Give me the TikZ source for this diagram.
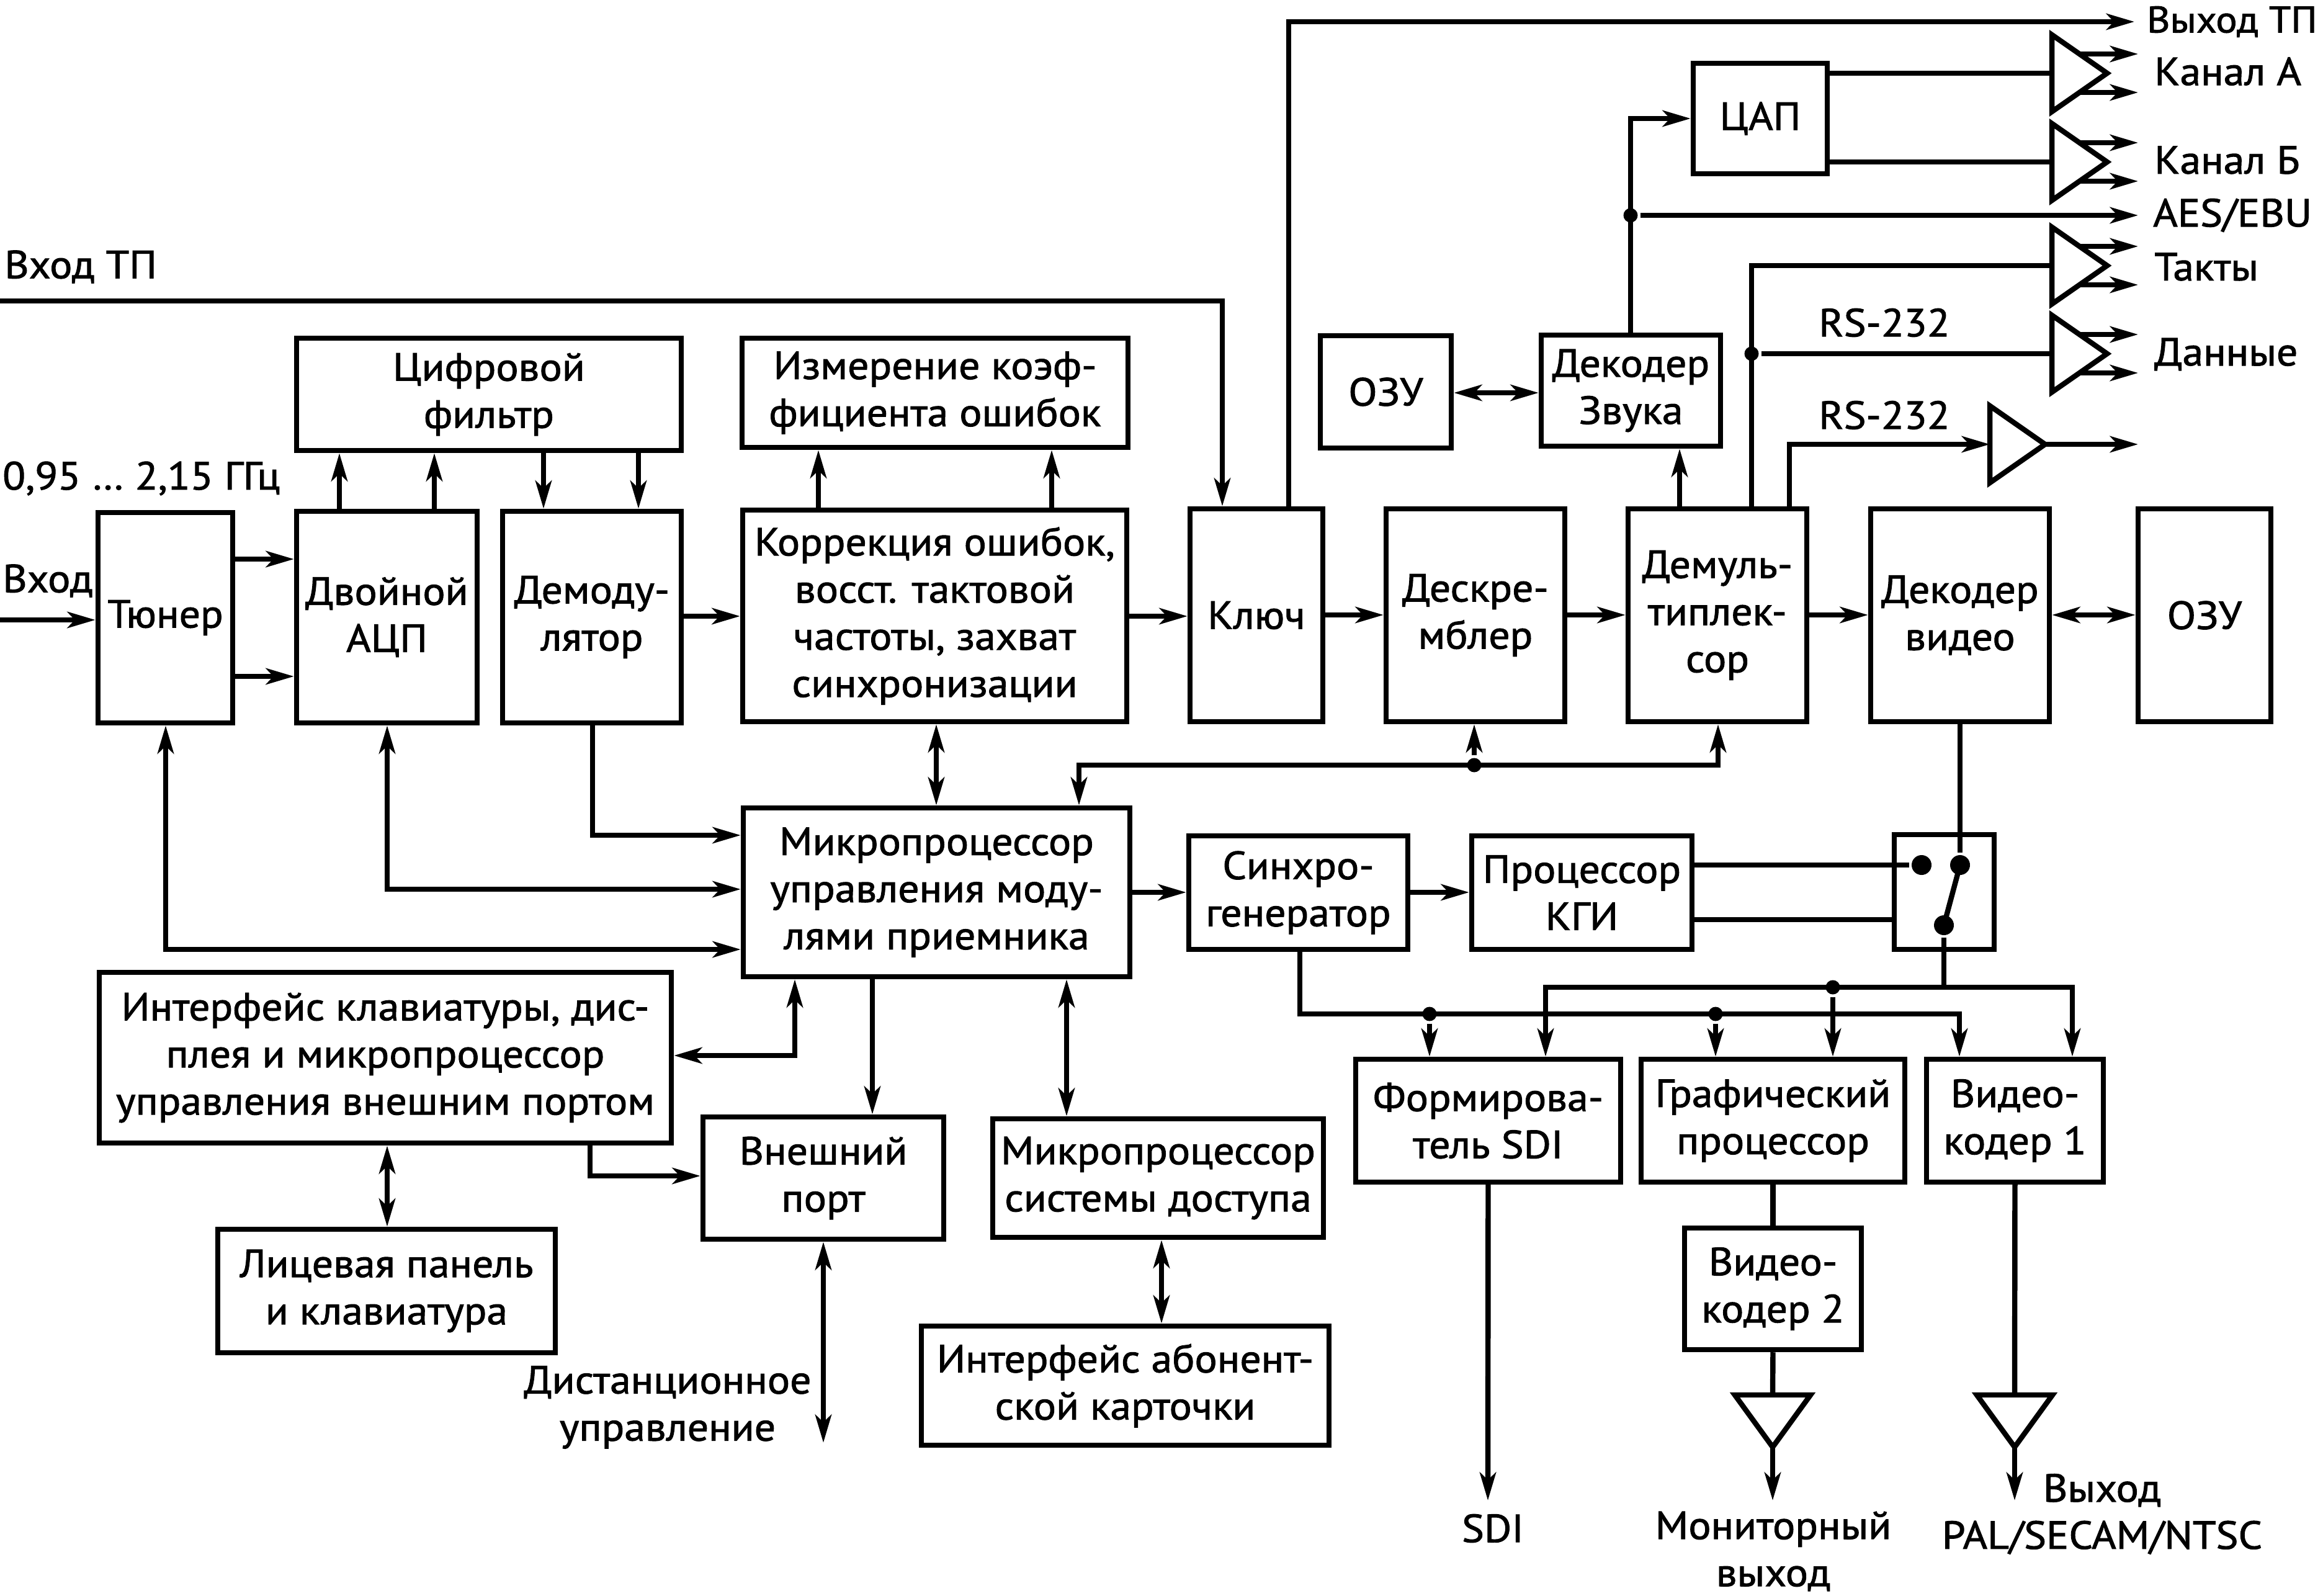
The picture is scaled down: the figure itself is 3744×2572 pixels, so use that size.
\documentclass[tikz,border=0pt]{standalone}
\usepackage{fontspec}
\setmainfont[FakeStretch=1.07,FakeBold=1.5]{PT Sans}
\usetikzlibrary{arrows.meta}
\newcommand{\fs}{\fontsize{18}{21.6}\selectfont}
\newcommand{\bx}[6]{\node[blk, minimum width={(#4-#2)*0.01cm}, minimum height={(#5-#3)*0.01cm}] (#1) at ({(#2+#4)/2},{(#3+#5)/2}) {#6};}
\newcommand{\ampr}[3]{%
  \draw (#2,{#3-62}) -- ({#2+89},#3) -- (#2,{#3+62}) -- cycle;
  \coordinate (#1) at (#2,#3);
  \draw[arr] ({#2+44},{#3-31}) -- (3446,{#3-31});
  \draw[arr] ({#2+44},{#3+31}) -- (3446,{#3+31});}
\newcommand{\ampd}[3]{%
  \draw ({#2-61},#3) -- ({#2+61},#3) -- (#2,{#3+84}) -- cycle;
  \coordinate (#1) at (#2,#3);}
\begin{document}
\begin{tikzpicture}[x=0.01cm,y=-0.01cm,line width=2.4pt,line join=miter,
  blk/.style={draw,line width=2.4pt,inner sep=0pt,align=center,font=\fs},
  arr/.style={-{Stealth[length=4.5mm,width=2.6mm,inset=1.2mm]}},
  darr/.style={{Stealth[length=4.5mm,width=2.6mm,inset=1.2mm]}-{Stealth[length=4.5mm,width=2.6mm,inset=1.2mm]}},
  dot/.style={circle,fill,inner sep=0pt,minimum size=2.3mm},
  bigdot/.style={circle,fill,inner sep=0pt,minimum size=3.2mm},
  lbl/.style={font=\fs,inner sep=0pt,align=center}]
\useasboundingbox (0,0) rectangle (3744,2572);

% blocks
\bx{tuner}{158}{826}{375}{1165}{Тюнер}
\bx{adc}{478}{824}{769}{1165}{Двойной\\АЦП}
\bx{demod}{810}{824}{1098}{1165}{Демоду-\\лятор}
\bx{filt}{478}{545}{1098}{726}{Цифровой\\фильтр}
\bx{meas}{1196}{545}{1818}{721}{Измерение коэф-\\фициента ошибок}
\bx{corr}{1197}{822}{1816}{1163}{Коррекция ошибок,\\восст. тактовой\\частоты, захват\\синхронизации}
\bx{key}{1918}{820}{2132}{1163}{Ключ}
\bx{descr}{2234}{820}{2522}{1163}{Дескре-\\мблер}
\bx{demux}{2624}{820}{2912}{1163}{Демуль-\\типлек-\\сор}
\bx{vdec}{3015}{820}{3303}{1163}{Декодер\\видео}
\bx{ramv}{3446}{820}{3660}{1163}{ОЗУ}
\bx{rama}{2128}{541}{2339}{722}{ОЗУ}
\bx{adec}{2484}{540}{2773}{719}{Декодер\\Звука}
\bx{dac}{2729}{102}{2945}{280}{ЦАП}
\bx{mcu}{1198}{1302}{1821}{1574}{Микропроцессор\\управления моду-\\лями приемника}
\bx{sync}{1916}{1347}{2269}{1530}{Синхро-\\генератор}
\bx{kgi}{2372}{1347}{2727}{1530}{Процессор\\КГИ}
\bx{sw}{3053}{1345}{3214}{1530}{}
\bx{kbd}{160}{1567}{1082}{1842}{Интерфейс клавиатуры, дис-\\плея и микропроцессор\\управления внешним портом}
\bx{front}{351}{1981}{895}{2180}{Лицевая панель\\и клавиатура}
\bx{extp}{1133}{1800}{1521}{1997}{Внешний\\порт}
\bx{cas}{1600}{1803}{2133}{1994}{Микропроцессор\\системы доступа}
\bx{card}{1485}{2137}{2142}{2329}{Интерфейс абонент-\\ской карточки}
\bx{sdi}{2185}{1707}{2612}{1905}{Формирова-\\тель SDI}
\bx{gfx}{2645}{1707}{3070}{1905}{Графический\\процессор}
\bx{venc1}{3105}{1707}{3390}{1905}{Видео-\\кодер 1}
\bx{venc2}{2715}{1979}{3000}{2175}{Видео-\\кодер 2}

% labels
\node[lbl,anchor=west] (lin) at (3,430) {Вход ТП};
\node[lbl,anchor=west] (lfreq) at (0,771) {0,95 … 2,15 ГГц};
\node[lbl,anchor=west] (lvh) at (0,936) {Вход};
\node[lbl,anchor=west,font=\fontsize{17}{20}\selectfont] (lout) at (3456,35) {Выход ТП};
\node[lbl,anchor=west] (lA) at (3468,115) {Канал А};
\node[lbl,anchor=west] (lB) at (3468,258) {Канал Б};
\node[lbl,anchor=west] (laes) at (3466,347) {AES/EBU};
\node[lbl,anchor=west] (ltakt) at (3468,430) {Такты};
\node[lbl,anchor=west] (ldat) at (3468,571) {Данные};
\node[lbl] (lrs1) at (3037,520) {RS-232};
\node[lbl] (lrs2) at (3037,669) {RS-232};
\node[lbl] (lsdi) at (2406,2463) {SDI};
\node[lbl] (lmon) at (2858,2500) {Мониторный\\выход};
\node[lbl] (lpal) at (3388,2440) {Выход\\PAL/SECAM/NTSC};
\node[lbl] (ldist) at (1076,2268) {Дистанционное\\управление};

% input chain
\coordinate (inL) at (0,999);
\draw[arr] (inL) -- (tuner.west |- inL);
\draw[arr] (tuner.east |- 0,901) -- (adc.west |- 0,901);
\draw[arr] (tuner.east |- 0,1090) -- (adc.west |- 0,1090);
\draw[arr] (adc.north -| 547,0) -- (filt.south -| 547,0);
\draw[arr] (adc.north -| 700,0) -- (filt.south -| 700,0);
\draw[arr] (filt.south -| 876,0) -- (demod.north -| 876,0);
\draw[arr] (filt.south -| 1029,0) -- (demod.north -| 1029,0);
\draw[arr] (demod.east |- 0,993) -- (corr.west |- 0,993);
\draw[arr] (corr.north -| 1319,0) -- (meas.south -| 1319,0);
\draw[arr] (corr.north -| 1695,0) -- (meas.south -| 1695,0);
\draw[arr] (corr.east |- 0,993) -- (key.west |- 0,993);
\draw[arr] (key.east |- 0,991) -- (descr.west |- 0,991);
\draw[arr] (descr.east |- 0,991) -- (demux.west |- 0,991);
\draw[arr] (demux.east |- 0,991) -- (vdec.west |- 0,991);
\draw[darr] (vdec.east |- 0,991) -- (ramv.west |- 0,991);

% transport stream in/out
\coordinate (tpin) at (0,485);
\draw[arr] (tpin) -- (1970,485) -- (key.north -| 1970,0);
\coordinate (tpout) at (3440,35);
\draw[arr] (key.north -| 2077,0) -- (2077,35) -- (tpout);

% audio
\draw[arr] (adec.north -| 2628,0) -- (2628,191) -- (dac.west |- 0,191);
\node[dot] (d1) at (2628,347) {};
\coordinate (aes) at (3446,347);
\draw[arr] (d1) -- (aes);
\draw[darr] (rama.east |- 0,633) -- (adec.west |- 0,633);
\draw[arr] (demux.north -| 2707,0) -- (adec.south -| 2707,0);
\ampr{ampA}{3307}{118}
\ampr{ampB}{3307}{261}
\ampr{ampT}{3307}{428}
\ampr{ampD}{3307}{570}
\draw (dac.east |- ampA) -- (ampA);
\draw (dac.east |- ampB) -- (ampB);
\draw (demux.north -| 2823,0) -- (2823,428) -- (ampT);
\node[dot] (d2) at (2823,570) {};
\draw (d2) -- (ampD);
% RS-232 amplifier
\draw (3207,654) -- (3296,716) -- (3207,778) -- cycle;
\coordinate (ampR) at (3207,716);
\coordinate (rsout) at (3446,716);
\draw[arr] (demux.north -| 2884,0) -- (2884,716) -- (ampR);
\draw[arr] (3296,716) -- (rsout);

% control
\draw[darr] (tuner.south -| 267,0) |- (mcu.west |- 0,1530);
\draw[darr] (adc.south -| 624,0) |- (mcu.west |- 0,1433);
\draw[arr] (demod.south -| 955,0) |- (mcu.west |- 0,1346);
\draw[darr] (corr.south -| 1509,0) -- (mcu.north -| 1509,0);
\draw[darr] (mcu.north -| 1739,0) -- (1739,1233) -- (2769,1233) -- (demux.south -| 2769,0);
\node[dot] (d3) at (2376,1233) {};
\draw[arr] (d3) -- (descr.south -| 2376,0);
\draw[arr] (mcu.east |- 0,1438) -- (sync.west |- 0,1438);
\draw[arr] (sync.east |- 0,1438) -- (kgi.west |- 0,1438);

\draw[darr] (mcu.south -| 1281,0) |- (kbd.east |- 0,1701);
\draw[arr] (mcu.south -| 1406,0) -- (extp.north -| 1406,0);
\draw[darr] (mcu.south -| 1719,0) -- (cas.north -| 1719,0);
\draw[darr] (cas.south -| 1872,0) -- (card.north -| 1872,0);
\draw[darr] (kbd.south -| 624,0) -- (front.north -| 624,0);
\draw[arr] (kbd.south -| 951,0) |- (extp.west |- 0,1895);
\coordinate (remote) at (1327,2325);
\draw[darr] (extp.south -| 1327,0) -- (remote);

% switch
\node[bigdot] (s1) at (3097,1394) {};
\node[bigdot] (s2) at (3159,1394) {};
\node[bigdot] (s3) at (3133,1491) {};
\draw (kgi.east |- s1) -- (s1);
\draw (kgi.east |- 0,1482) -- (sw.west |- 0,1482);
\draw (vdec.south -| s2) -- (s2);
\draw (s2.center) -- (s3.center);
\coordinate (bj) at (3133,1591);
\draw (s3) -- (bj);
\draw[arr] (bj) -| (venc1.north -| 3340,0);
\draw[arr] (bj) -| (sdi.north -| 2491,0);
\node[dot] (d4) at (2954,1591) {};
\draw[arr] (d4) -- (gfx.north -| 2954,0);
\draw[arr] (sync.south -| 2095,0) |- (3158,1634) -- (venc1.north -| 3158,0);
\node[dot] (d5) at (2304,1634) {};
\node[dot] (d6) at (2765,1634) {};
\draw[arr] (d5) -- (sdi.north -| 2304,0);
\draw[arr] (d6) -- (gfx.north -| 2765,0);

% outputs
\coordinate (sdiout) at (2398,2418);
\draw[arr] (sdi.south) -- (sdiout);
\draw (gfx.south) -- (venc2.north);
\ampd{amp2}{2857}{2248}
\ampd{amp1}{3247}{2248}
\draw (venc2.south) -- (amp2);
\draw (venc1.south) -- (amp1);
\coordinate (monout) at (2857,2418);
\coordinate (palout) at (3247,2418);
\draw[arr] (2857,2332) -- (monout);
\draw[arr] (3247,2332) -- (palout);
\end{tikzpicture}
\end{document}
